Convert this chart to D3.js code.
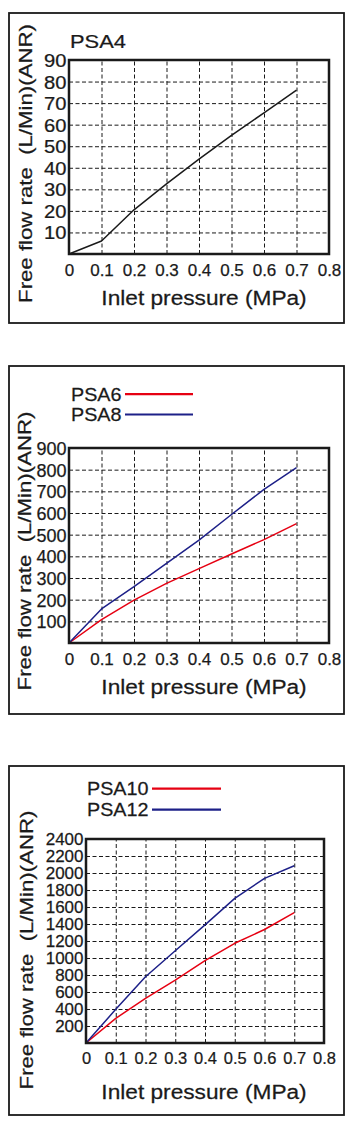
<!DOCTYPE html>
<html>
<head>
<meta charset="utf-8">
<script src="https://cdn.jsdelivr.net/npm/d3@7/dist/d3.min.js"></script>
<style>
  html, body { margin: 0; padding: 0; background: #fff; }
  svg { display: block; }
  text { font-family: "Liberation Sans", Arial, Helvetica, sans-serif; fill: #1a1a1a; stroke: #1a1a1a; stroke-width: 0.25px; }
</style>
</head>
<body>
<svg id="chart" width="354" height="1126"></svg>
<script>
// ---- data ----
const pressure = [0, 0.1, 0.2, 0.3, 0.4, 0.5, 0.6, 0.7];
const psa4  = [0, 6, 20.5, 32.5, 44, 55, 65.5, 76];
const psa6  = [0, 108, 198, 275, 343, 411, 477, 551];
const psa8  = [0, 157, 260, 368, 475, 593, 709, 809];
const psa10 = [0, 290, 526, 741, 968, 1173, 1335, 1533];
const psa12 = [0, 396, 780, 1086, 1390, 1702, 1937, 2086];
const xTicks = [0, 0.1, 0.2, 0.3, 0.4, 0.5, 0.6, 0.7, 0.8];
const yTicks1 = [10, 20, 30, 40, 50, 60, 70, 80, 90];
const yTicks2 = [100, 200, 300, 400, 500, 600, 700, 800, 900];
const yTicks3 = [200, 400, 600, 800, 1000, 1200, 1400, 1600, 1800, 2000, 2200, 2400];
const xTitle = "Inlet pressure (MPa)";
const yTitle = "Free flow rate\u00A0\u00A0(L/Min)(ANR)";

const RED = "#e60012", BLUE = "#1d2088", INK = "#1a1a1a";
const svg = d3.select("#chart");

function panel(cfg) {
  const g = svg.append("g");
  // outer frame
  g.append("rect")
    .attr("x", cfg.box[0]).attr("y", cfg.box[1])
    .attr("width", cfg.box[2] - cfg.box[0]).attr("height", cfg.box[3] - cfg.box[1])
    .attr("fill", "none").attr("stroke", INK).attr("stroke-width", 1.8);

  const [L, T, R, B] = cfg.plot;
  const x = d3.scaleLinear().domain([0, 0.8]).range([L, R]);
  const y = d3.scaleLinear().domain([0, cfg.yMax]).range([B, T]);

  // grid
  const gx = g.append("g").attr("transform", `translate(0,${B})`)
    .call(d3.axisBottom(x).tickValues(xTicks.slice(1, -1)).tickSize(-(B - T)).tickFormat(""));
  const gy = g.append("g").attr("transform", `translate(${L},0)`)
    .call(d3.axisLeft(y).tickValues(cfg.yTicks.slice(0, -1)).tickSize(-(R - L)).tickFormat(""));
  [gx, gy].forEach(a => {
    a.select(".domain").remove();
    a.selectAll("line").attr("stroke", INK).attr("stroke-width", 1).attr("stroke-dasharray", "4,2.5");
  });

  // series
  const line = d3.line().x((d, i) => x(pressure[i])).y(d => y(d));
  cfg.series.forEach(s => {
    g.append("path").datum(s.values).attr("d", line)
      .attr("fill", "none").attr("stroke", s.color).attr("stroke-width", 1.5)
      .attr("stroke-linejoin", "round");
  });

  // plot frame
  g.append("rect").attr("x", L).attr("y", T).attr("width", R - L).attr("height", B - T)
    .attr("fill", "none").attr("stroke", INK).attr("stroke-width", 2.5);

  // x tick labels
  const ax = g.append("g").attr("transform", `translate(0,${B})`)
    .call(d3.axisBottom(x).tickValues(xTicks).tickSize(0).tickFormat(d => d === 0 ? "0" : d3.format(".1f")(d)));
  ax.select(".domain").remove();
  ax.selectAll("text").attr("y", null).attr("dy", null)
    .attr("transform", `translate(0,${cfg.xLabelDy}) scale(${cfg.xLabelSx},1)`)
    .style("font-size", cfg.xLabelSize + "px").attr("fill", INK);

  // y tick labels
  const ay = g.append("g").attr("transform", `translate(${L},0)`)
    .call(d3.axisLeft(y).tickValues(cfg.yTicks).tickSize(0).tickFormat(d3.format("d")));
  ay.select(".domain").remove();
  ay.selectAll("text").attr("x", null).attr("dy", "0.36em")
    .attr("transform", `translate(-2.5,0) scale(${cfg.yLabelSx},1)`)
    .style("font-size", cfg.yLabelSize + "px").attr("fill", INK);

  // axis titles
  g.append("text").attr("text-anchor", "middle")
    .attr("transform", `translate(${cfg.xTitlePos[0]},${cfg.xTitlePos[1]}) scale(1.08,1)`)
    .style("font-size", "21px").text(xTitle);
  g.append("text").attr("text-anchor", "middle")
    .attr("transform", `translate(${cfg.yTitlePos[0]},${cfg.yTitlePos[1]}) rotate(-90) scale(1.17,1)`)
    .style("font-size", "19px").text(yTitle);

  // title / legend
  if (cfg.title) {
    g.append("text")
      .attr("transform", `translate(${cfg.title.pos[0]},${cfg.title.pos[1]}) scale(1.15,1)`)
      .style("font-size", "19px").text(cfg.title.text);
  }
  if (cfg.legend) {
    cfg.legend.items.forEach((it, i) => {
      const by = cfg.legend.y0 + i * cfg.legend.dy;
      g.append("text")
        .attr("transform", `translate(${cfg.legend.x},${by}) scale(1.04,1)`)
        .style("font-size", "19px").text(it.name);
      g.append("line")
        .attr("x1", cfg.legend.lx[0]).attr("x2", cfg.legend.lx[1])
        .attr("y1", by - 6.3).attr("y2", by - 6.3)
        .attr("stroke", it.color).attr("stroke-width", 2.2);
    });
  }
}

panel({
  box: [9, 13, 344, 323],
  plot: [69, 60, 329, 254],
  yMax: 90, yTicks: yTicks1,
  series: [{ values: psa4, color: INK }],
  xLabelDy: 22, xLabelSx: 1.0, xLabelSize: 17,
  yLabelSx: 1.12, yLabelSize: 18,
  xTitlePos: [204, 305], yTitlePos: [32, 163.5],
  title: { text: "PSA4", pos: [70, 48] }
});

panel({
  box: [9, 366, 344, 714],
  plot: [69, 448, 329, 643],
  yMax: 900, yTicks: yTicks2,
  series: [{ values: psa6, color: RED }, { values: psa8, color: BLUE }],
  xLabelDy: 22, xLabelSx: 1.0, xLabelSize: 17,
  yLabelSx: 1.0, yLabelSize: 18,
  xTitlePos: [204, 694], yTitlePos: [31, 551],
  legend: { x: 71, y0: 400.5, dy: 20.3, lx: [125, 193],
            items: [{ name: "PSA6", color: RED }, { name: "PSA8", color: BLUE }] }
});

panel({
  box: [9, 766, 344, 1115],
  plot: [86, 839, 324, 1043],
  yMax: 2400, yTicks: yTicks3,
  series: [{ values: psa10, color: RED }, { values: psa12, color: BLUE }],
  xLabelDy: 20.5, xLabelSx: 0.97, xLabelSize: 17,
  yLabelSx: 1.03, yLabelSize: 16.5,
  xTitlePos: [204, 1099], yTitlePos: [33, 950],
  legend: { x: 87, y0: 795, dy: 21, lx: [152, 221],
            items: [{ name: "PSA10", color: RED }, { name: "PSA12", color: BLUE }] }
});
</script>
</body>
</html>
